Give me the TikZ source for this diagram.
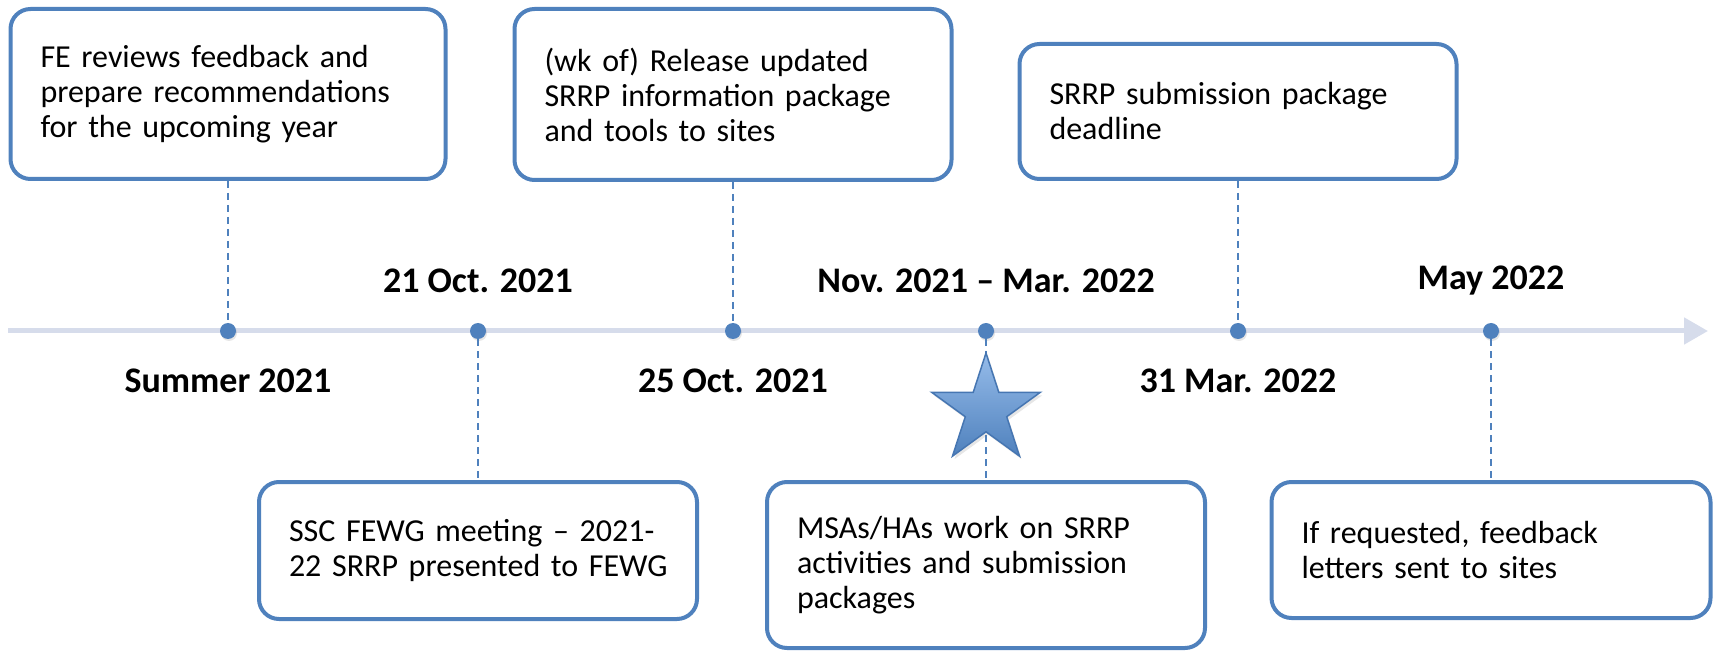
\documentclass[tikz,border=0pt]{standalone}
\usepackage{fontspec}
\setmainfont{Carlito}
\usetikzlibrary{arrows.meta,shapes.geometric,shadows}
\definecolor{boxblue}{RGB}{79,129,189}
\definecolor{axisblue}{RGB}{214,220,235}
\definecolor{starlight}{RGB}{150,188,234}
\definecolor{starline}{RGB}{70,118,178}
\begin{document}
\begin{tikzpicture}[x=1pt, y=-1pt,
		event/.style={draw=boxblue, line width=4pt, rounded corners=20pt, fill=white, align=left, inner xsep=30pt, inner ysep=0pt, font=\fontsize{32}{35}\selectfont},
		dot/.style={circle, fill=boxblue, minimum size=16pt, inner sep=0pt, drop shadow={opacity=0.2, shadow xshift=1pt, shadow yshift=-2pt}},
		date/.style={font=\fontsize{36}{40}\selectfont\bfseries},
		link/.style={boxblue, line width=2pt, dash pattern=on 7pt off 5pt},
		axis/.style={axisblue, line width=5pt, -{Triangle[length=24pt, width=26pt]}}]
		\useasboundingbox (0,0) rectangle (1714,652);
	
		% time axis
		\coordinate (start) at (8,331);
		\coordinate (end) at (1708,331);
		\draw[axis] (start) -- (end);
	
		% events above the axis
		\node[event, text width=375pt, minimum height=170pt] (fe) at (228,94) {FE reviews feedback and\\prepare recommendations\\for the upcoming year};
		\node[event, text width=377pt, minimum height=171pt] (rel) at (733,94.5) {(wk of) Release updated\\SRRP information package\\and tools to sites};
		\node[event, text width=377pt, minimum height=135pt] (ddl) at (1238,111.5) {SRRP submission package\\deadline};
	
		% events below the axis
		\node[event, text width=378pt, minimum height=137pt] (mtg) at (478,550.5) {SSC FEWG meeting -- 2021-\\\mbox{22 SRRP presented to FEWG}};
		\node[event, text width=378pt, minimum height=166pt] (msa) at (986,565) {MSAs/HAs work on SRRP\\activities and submission\\packages};
		\node[event, text width=379pt, minimum height=136pt] (fb) at (1491,550) {If requested, feedback\\letters sent to sites};
	
		\node[dot] (d1) at (228,331) {};
		\node[dot] (d2) at (478,331) {};
		\node[dot] (d3) at (733,331) {};
		\node[dot] (d4) at (986,331) {};
		\node[dot] (d5) at (1238,331) {};
		\node[dot] (d6) at (1491,331) {};
	
		\node[date] (t1) at (228,381) {Summer 2021};
		\node[date] (t2) at (478,281) {21 Oct. 2021};
		\node[date] (t3) at (733,381) {25 Oct. 2021};
		\node[date] (t4) at (986,281) {Nov. 2021 -- Mar. 2022};
		\node[date] (t5) at (1238,381) {31 Mar. 2022};
		\node[date] (t6) at (1491,281) {May 2022};
	
		\draw[link] (fe) -- (d1);
		\draw[link] (d2) -- (mtg);
		\draw[link] (rel) -- (d3);
		\draw[link] (d4) -- (msa);
		\draw[link] (ddl) -- (d5);
		\draw[link] (d6) -- (fb);
	
		\node[star, star points=5, star point ratio=2.618, minimum size=114pt, inner sep=0pt, draw=starline, line width=1.5pt, top color=starlight, bottom color=boxblue, drop shadow={opacity=0.2, shadow xshift=2pt, shadow yshift=-3pt}] (st) at (986,410) {};
	\end{tikzpicture}
\end{document}
